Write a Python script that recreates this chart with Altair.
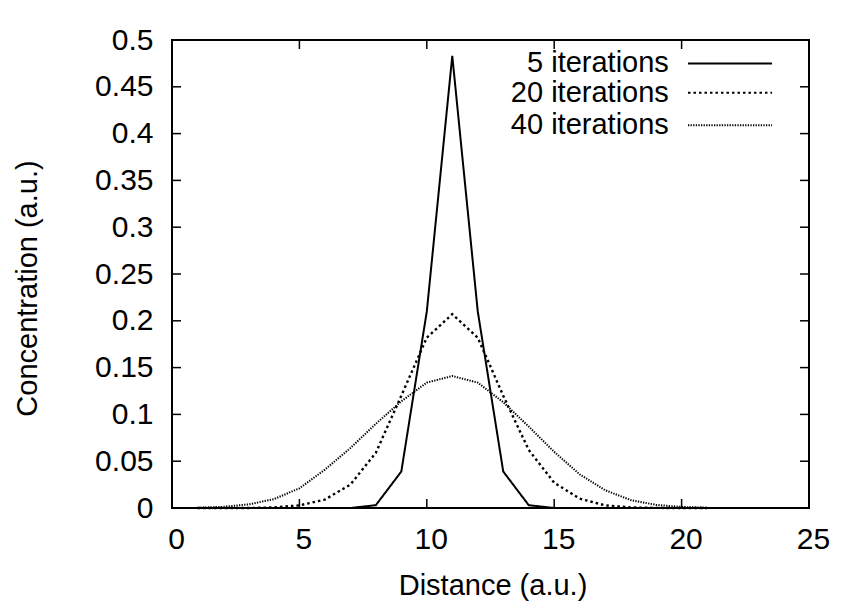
import altair as alt
import pandas as pd

# ---- data ----
distance = list(range(1, 22))
iter5 = [0, 0, 0, 0, 0, 0, 0, 0.003, 0.039, 0.21, 0.483, 0.21, 0.039, 0.003, 0, 0, 0, 0, 0, 0, 0]
iter20 = [0, 0, 0, 0.0006, 0.0028, 0.009, 0.025, 0.059, 0.12, 0.182, 0.207, 0.182, 0.12, 0.062, 0.027, 0.01, 0.0028, 0.0006, 0.0001, 0, 0]
iter40 = [0.0003, 0.0012, 0.0038, 0.0095, 0.021, 0.041, 0.064, 0.09, 0.114, 0.134, 0.141, 0.134, 0.113, 0.087, 0.06, 0.036, 0.019, 0.0085, 0.0033, 0.0011, 0.0003]

series_names = ["5 iterations", "20 iterations", "40 iterations"]
series_values = [iter5, iter20, iter40]
series_dash = [[1, 0], [2.5, 3], [1.3, 1.3]]
series_width = [2, 2.4, 2]

x_ticks = [0, 5, 10, 15, 20, 25]
y_ticks = [0, 0.05, 0.1, 0.15, 0.2, 0.25, 0.3, 0.35, 0.4, 0.45, 0.5]

# legend placement in data units
legend_text_x = 19.5
legend_line_x = [20.25, 23.55]
legend_y = [0.475, 0.4437, 0.409]

W, H = 637, 468
FONT = "Liberation Sans"
FS = 30
TFS = 29

xscale = alt.Scale(domain=[0, 25], nice=False, zero=False)
yscale = alt.Scale(domain=[0, 0.5], nice=False)

xaxis = alt.Axis(values=x_ticks, ticks=False, domain=False, grid=False,
                 labelFontSize=FS, labelFont=FONT, labelColor="black",
                 labelPadding=16, labelFlush=False, labelOffset=4,
                 title="Distance (a.u.)", titleFontSize=TFS, titleFont=FONT,
                 titleFontWeight="normal", titleColor="black",
                 titleX=W / 2 + 2, titleY=77, titleBaseline="middle", titleAlign="center")
yaxis = alt.Axis(values=y_ticks, ticks=False, domain=False, grid=False,
                 labelFontSize=FS, labelFont=FONT, labelColor="black",
                 labelPadding=19, labelFlush=False, labelExpr="datum.value + ''",
                 title="Concentration (a.u.)", titleFontSize=TFS, titleFont=FONT,
                 titleFontWeight="normal", titleColor="black",
                 titleX=-145, titleY=248, titleBaseline="middle", titleAlign="center",
                 titleAngle=270)


def X(field):
    return alt.X(field, scale=xscale, axis=xaxis)


def Y(field):
    return alt.Y(field, scale=yscale, axis=yaxis)


layers = []
for i, (name, vals, dash, sw) in enumerate(zip(series_names, series_values, series_dash, series_width)):
    df = pd.DataFrame({"x": distance, "y": vals})
    layers.append(
        alt.Chart(df).mark_line(color="black", strokeWidth=sw, strokeDash=dash,
                                strokeCap="butt", interpolate="linear")
        .encode(x=X("x:Q"), y=Y("y:Q"))
    )
    leg = pd.DataFrame({"x": [legend_line_x[0]], "x2": [legend_line_x[1]],
                        "y": [legend_y[i]], "tx": [legend_text_x], "label": [name]})
    layers.append(
        alt.Chart(leg).mark_rule(color="black", strokeWidth=2, strokeDash=dash)
        .encode(x=X("x:Q"), x2="x2:Q", y=Y("y:Q"))
    )
    layers.append(
        alt.Chart(leg).mark_text(align="right", baseline="middle", font=FONT,
                                 fontSize=29, color="black")
        .encode(x=X("tx:Q"), y=Y("y:Q"), text="label:N")
    )

# inward ticks on all four sides
yt = pd.DataFrame({"v": y_ticks})
xt = pd.DataFrame({"v": x_ticks})
TL = 9
layers.append(alt.Chart(yt).mark_rule(color="black", strokeWidth=1.5).encode(
    y=Y("v:Q"), x=alt.value(0), x2=alt.value(TL)))
layers.append(alt.Chart(yt).mark_rule(color="black", strokeWidth=1.5).encode(
    y=Y("v:Q"), x=alt.value(W - TL), x2=alt.value(W)))
layers.append(alt.Chart(xt).mark_rule(color="black", strokeWidth=1.5).encode(
    x=X("v:Q"), y=alt.value(H), y2=alt.value(H - TL)))
layers.append(alt.Chart(xt).mark_rule(color="black", strokeWidth=1.5).encode(
    x=X("v:Q"), y=alt.value(0), y2=alt.value(TL)))

chart = alt.layer(*layers).properties(
    width=W, height=H,
    autosize=alt.AutoSizeParams(type="none"),
    padding={"left": 172, "top": 40, "right": 57, "bottom": 106},
    background="white",
).configure_view(stroke="black", strokeWidth=2)

chart.save("out.html", embed_options={"renderer": "svg", "actions": False})
